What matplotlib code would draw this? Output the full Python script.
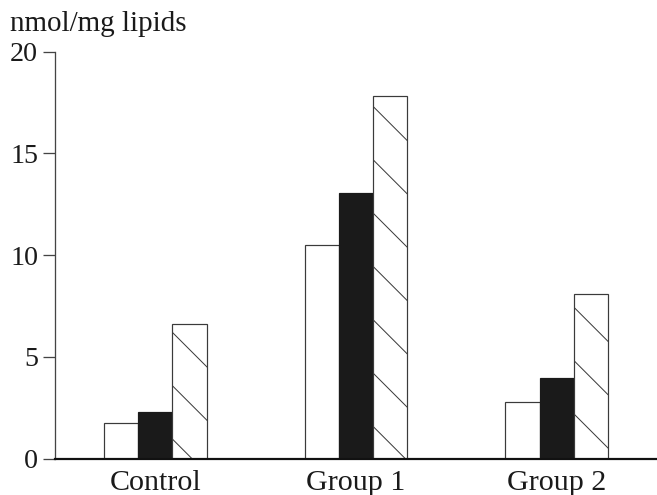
import matplotlib.pyplot as plt
import numpy as np

groups = ['Control', 'Group 1', 'Group 2']
white_vals = [1.75, 10.5, 2.78]
black_vals = [2.3, 13.07, 3.98]
hatch_vals = [6.62, 17.83, 8.1]
yticks = [0, 5, 10, 15, 20]

DPI = 320
px = 72.0 / DPI  # one pixel in points

plt.rcParams['font.family'] = ['Liberation Serif', 'DejaVu Serif']
plt.rcParams['hatch.linewidth'] = 1.0 * px

fig = plt.figure(figsize=(657 / DPI, 495 / DPI), dpi=DPI)
ax = fig.add_axes([55 / 657, 1 - 458.7 / 495, 1 - 55 / 657, (458.7 - 51.7) / 495])

x = np.arange(len(groups))
w = 0.17
ec = '#3a3a3a'
ax.bar(x - w, white_vals, w, color='white', edgecolor=ec, linewidth=1.2 * px)
ax.bar(x, black_vals, w, color='#1a1a1a', edgecolor='#1a1a1a', linewidth=1.2 * px)
ax.bar(x + w, hatch_vals, w, color='white', edgecolor=ec, linewidth=1.2 * px, hatch='\\\\')

ax.set_xlim(-0.5, 2.5)
ax.set_ylim(0, 20)
ax.set_yticks(yticks)
ax.set_xticks(x)
ax.set_xticklabels(groups)

for s in ['top', 'right']:
    ax.spines[s].set_visible(False)
ax.spines['left'].set_linewidth(1.3 * px)
ax.spines['left'].set_color('#444444')
ax.spines['bottom'].set_linewidth(2.2 * px)
ax.spines['bottom'].set_color('#111111')

ax.tick_params(axis='y', direction='out', length=12 * px, width=1.3 * px,
               color='#444444', pad=5 * px, labelsize=28 * px, labelcolor='#1a1a1a')
ax.tick_params(axis='x', length=0, pad=11 * px, labelsize=30 * px, labelcolor='#1a1a1a')

fig.text(10 / 657, 1 - 31 / 495, 'nmol/mg lipids', fontsize=29 * px,
         va='baseline', ha='left', color='#1a1a1a')

fig.savefig('out.png', dpi=DPI)
